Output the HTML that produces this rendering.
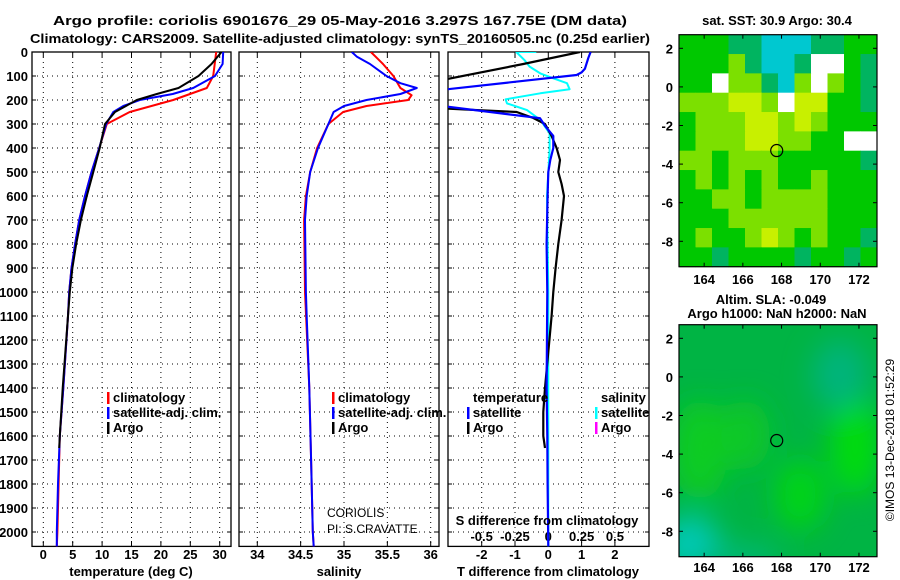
<!DOCTYPE html>
<html><head><meta charset="utf-8"><style>
body{margin:0;background:#fff;}
svg{display:block;font-family:"Liberation Sans",sans-serif;}
.b{font-weight:bold;font-size:13px;}
</style></head><body>
<svg id="s" width="900" height="580" viewBox="0 0 900 580">
<defs>
<clipPath id="c1"><rect x="32" y="52" width="199" height="495"/></clipPath>
<clipPath id="c2"><rect x="239" y="52" width="200" height="495"/></clipPath>
<clipPath id="c3"><rect x="448" y="52" width="201" height="495"/></clipPath>
<clipPath id="cm2"><rect x="679" y="325" width="198" height="232"/></clipPath>
<filter id="bl"><feGaussianBlur stdDeviation="14"/></filter>
</defs>
<text x="340" y="25" text-anchor="middle" class="b" font-size="15" textLength="574" lengthAdjust="spacingAndGlyphs">Argo profile: coriolis 6901676_29 05-May-2016 3.297S 167.75E (DM data)</text>
<text x="340" y="43" text-anchor="middle" class="b" font-size="15" textLength="620" lengthAdjust="spacingAndGlyphs">Climatology: CARS2009. Satellite-adjusted climatology: synTS_20160505.nc (0.25d earlier)</text>
<g id="g"></g>
</svg>
<script>
// depth grid
const depthTicks=[0,100,200,300,400,500,600,700,800,900,1000,1100,1200,1300,1400,1500,1600,1700,1800,1900,2000];
// temperature panel
const tempTicks=[0,5,10,15,20,25,30];
const climDepth=[0,100,150,200,250,300,400,500,600,700,800,900,1000,1100,1400,1600,1800,2000,2060];
const climTemp=[29.4,28.9,27.8,22.1,14.7,10.8,9.5,8.2,7.1,6.1,5.4,4.8,4.4,4.2,3.4,2.8,2.6,2.4,2.3];
const satDepth=[0,50,100,150,175,200,225,250,300,400,500,600,700,800,900,1000,1100,1400,1600,1800,2000,2060];
const satTemp=[30.6,30.5,29.2,25.5,22,16.4,13.6,11.9,10.7,9.5,8.2,7.1,6.1,5.4,4.8,4.4,4.2,3.4,2.8,2.5,2.3,2.3];
const argoDepth=[0,50,100,150,175,200,250,300,400,500,600,700,800,900,1000,1100,1400,1600,1650];
const argoTemp=[30.3,28.6,26.4,23,19.3,15.9,12.2,10.5,9.6,8.5,7.4,6.4,5.6,4.95,4.5,4.2,3.3,2.8,2.7];
// salinity panel
const salTicks=[34,34.5,35,35.5,36];
const salTickLabels=["34","34.5","35","35.5","36"];
const climSalDepth=[0,50,100,150,180,200,225,250,300,400,500,600,700,1000,1400,1700,2000,2060];
const climSal=[35.31,35.45,35.57,35.65,35.78,35.74,35.26,34.99,34.82,34.69,34.61,34.56,34.54,34.55,34.6,34.62,34.64,34.65];
const satSalDepth=[0,20,50,100,130,150,175,200,225,250,300,400,500,600,700,1000,1100,1400,1700,2000,2060];
const satSal=[35.09,35.15,35.3,35.49,35.65,35.84,35.65,35.26,35.0,34.88,34.82,34.7,34.61,34.57,34.55,34.56,34.57,34.6,34.62,34.64,34.65];
// difference panel
const tdTicks=[-2,-1,0,1,2];
const sdTicks=[-0.5,-0.25,0,0.25,0.5];
const sdTickLabels=["-0.5","-0.25","0","0.25","0.5"];
const argoTdDepth=[0,50,117,235,250,275,300,350,400,450,500,550,600,700,800,900,1000,1100,1400,1500,1600,1650];
const argoTd=[0.95,-0.75,-3.2,-3.2,-0.95,-0.45,-0.1,0.1,0.25,0.35,0.3,0.4,0.47,0.4,0.3,0.22,0.15,0.1,-0.1,-0.15,-0.15,-0.1];
const satTdDepth=[0,25,70,85,96,158,225,276,311,350,400,450,500,600,800,1000,1400,1600,1800,2060];
const satTd=[1.27,1.2,1.1,1.0,0.85,-3.2,-3.2,-0.25,-0.08,0.15,0.15,0.06,0,-0.02,-0.05,-0.03,-0.05,-0.03,-0.02,0];
const satSdDepth=[0,0,33,61,89,110,130,155,172,197,214,242,283,339,408,600,1000,1500,2060];
const satSd=[-0.09,-0.24,-0.18,-0.14,-0.06,0.04,0.14,0.16,-0.06,-0.32,-0.31,-0.16,-0.06,0.01,0.01,-0.01,0,0,0];
// maps
const lonTicks=[164,166,168,170,172];
const latTicks=[2,0,-2,-4,-6,-8];
const sstRows=["GGGTTCCCTTGG","GGGLTCCTWWGT","GGWLLTCLWLGT","LLLYYLWYYGGT","GLLLYYLYLGGG","GLLLYYLLGGWW","LLGLLLGGGGGT","GLGLGLGGLGGG","GGLLGLLLLGGG","GGGLLLLLLGGG","GLGGLYLGLGGT","GGTGGGGTGGTG"];
const argoLon=167.75, argoLat=-3.297;

const NS='http://www.w3.org/2000/svg';
const G=document.getElementById('g');
function mk(t,a,p){const e=document.createElementNS(NS,t);for(const k in a)e.setAttribute(k,a[k]);(p||G).appendChild(e);return e;}
const yD=d=>52+0.24*d;
const xT=v=>43.3+v*5.88;
const xS=v=>257.3+(v-34)*86.7;
const xTd=v=>548.3+v*33.3;
const xSd=v=>548.3+v*133.3;

function panel(x0,x1,name){
  const f=mk('rect',{x:x0,y:52,width:x1-x0,height:494.4,fill:'none',stroke:'#000','stroke-width':1.3});
  
  
  depthTicks.forEach(d=>{
    const l=mk('line',{x1:x0,x2:x1,y1:yD(d),y2:yD(d),stroke:'#000','stroke-width':1,'stroke-dasharray':'1 4'});
    
    
    mk('line',{x1:x0,x2:x0+4,y1:yD(d),y2:yD(d),stroke:'#000'});
    mk('line',{x1:x1-4,x2:x1,y1:yD(d),y2:yD(d),stroke:'#000'});
  });
}
function vgrid(xs,name){xs.forEach(x=>{
  const l=mk('line',{x1:x,x2:x,y1:52,y2:546,stroke:'#000','stroke-width':1,'stroke-dasharray':'1 4'});
  
  
  mk('line',{x1:x,x2:x,y1:541,y2:546,stroke:'#000'});
  mk('line',{x1:x,x2:x,y1:52,y2:57,stroke:'#000'});
});}
function series(ds,vs,sx,col,clip,name,w){
  const pts=ds.map((d,i)=>sx(vs[i]).toFixed(1)+','+yD(d).toFixed(1)).join(' ');
  const p=mk('polyline',{points:pts,fill:'none',stroke:col,'stroke-width':w||2,'clip-path':'url(#'+clip+')','stroke-linejoin':'round'});
  
  
}
function txt(x,y,s,o){const t=mk('text',Object.assign({x:x,y:y,'class':'b'},o||{}));t.textContent=s;return t;}

depthTicks.forEach(d=>{const t=txt(28,yD(d)+5,String(d),{'text-anchor':'end'});
  
  });

// panel 1
panel(32,231,'temperature-panel');
vgrid(tempTicks.map(xT),'temperature');
tempTicks.forEach(v=>{const t=txt(xT(v),559,String(v),{'text-anchor':'middle'});
  
  });
series(climDepth,climTemp,xT,'#f00','c1','temperature-climatology-line');
series(satDepth,satTemp,xT,'#00f','c1','temperature-satellite-line');
series(argoDepth,argoTemp,xT,'#000','c1','temperature-argo-line');
let t=txt(131,576,'temperature (deg C)',{'text-anchor':'middle'});



// panel 2
panel(239,439,'salinity-panel');
vgrid(salTicks.map(xS),'salinity');
salTicks.forEach((v,i)=>{const t=txt(xS(v),559,salTickLabels[i],{'text-anchor':'middle'});
  
  });
series(climSalDepth,climSal,xS,'#f00','c2','salinity-climatology-line');
series(satSalDepth,satSal,xS,'#00f','c2','salinity-satellite-line');
t=txt(339,576,'salinity',{'text-anchor':'middle'});


t=txt(327,517,'CORIOLIS',{'class':'','font-size':'12'});


t=txt(327,533,'PI: S.CRAVATTE',{'class':'','font-size':'12'});



// panel 3
panel(448,649,'difference-panel');
vgrid(tdTicks.map(xTd),'difference');
tdTicks.forEach(v=>{const t=txt(xTd(v),559,String(v),{'text-anchor':'middle'});
  
  });
sdTicks.forEach((v,i)=>{const t=txt(xSd(v),541,sdTickLabels[i],{'text-anchor':'middle'});
  
  });
series(satSdDepth,satSd,xSd,'#0ff','c3','salinity-difference-satellite-line');
series(argoTdDepth,argoTd,xTd,'#000','c3','temperature-difference-argo-line',2.2);
series(satTdDepth,satTd,xTd,'#00f','c3','temperature-difference-satellite-line',2.2);
t=txt(548,576,'T difference from climatology',{'text-anchor':'middle'});


t=txt(547,525,'S difference from climatology',{'text-anchor':'middle'});



function leg(x,y,col,label,name){
  const r=mk('rect',{x:x,y:y-10,width:2.5,height:12,fill:col});
  
  
  const tt=txt(x+6,y,label);
  
  
}
leg(107,402,'#f00','climatology','legend-climatology');
leg(107,417,'#00f','satellite-adj. clim.','legend-satellite');
leg(107,432,'#000','Argo','legend-argo');
leg(332,402,'#f00','climatology','legend2-climatology');
leg(332,417,'#00f','satellite-adj. clim.','legend2-satellite');
leg(332,432,'#000','Argo','legend2-argo');
t=txt(473,402,'temperature');


t=txt(601,402,'salinity');


leg(467,417,'#00f','satellite','legend-t-satellite');
leg(467,432,'#000','Argo','legend-t-argo');
leg(595,417,'#0ff','satellite','legend-s-satellite');
leg(595,432,'#f0f','Argo','legend-s-argo');

// maps
const mx0=679,mx1=877;
const xL=l=>679+(l-162.7)*19.35;
function yLat(top,l){return top+13.6+(2-l)*19.3;}
const colors={G:'#00c800',L:'#7ce000',Y:'#c8f000',T:'#00b460',C:'#00c8d0',W:'#ffffff'};
const cw=(mx1-mx0)/12, chh=(266.7-34.7)/12;
sstRows.forEach((row,r)=>{[...row].forEach((c,k)=>{
  const cell=mk('rect',{x:mx0+k*cw,y:34.7+r*chh,width:cw+0.5,height:chh+0.5,fill:colors[c]});
  
  
});});
function mapFrame(top,bot,name,lonY){
  const f=mk('rect',{x:mx0,y:top,width:mx1-mx0,height:bot-top,fill:'none',stroke:'#000','stroke-width':1.2});
  
  
  lonTicks.forEach(l=>{mk('line',{x1:xL(l),x2:xL(l),y1:top,y2:top+4,stroke:'#000'});mk('line',{x1:xL(l),x2:xL(l),y1:bot-4,y2:bot,stroke:'#000'});
    const tt=txt(xL(l),lonY,String(l),{'text-anchor':'middle'});
    
    });
  latTicks.forEach(l=>{const y=yLat(top,l);mk('line',{x1:mx0,x2:mx0+4,y1:y,y2:y,stroke:'#000'});mk('line',{x1:mx1-4,x2:mx1,y1:y,y2:y,stroke:'#000'});
    const tt=txt(673,y+5,String(l),{'text-anchor':'end'});
    
    });
  const c=mk('circle',{cx:xL(argoLon),cy:yLat(top,argoLat),r:6,fill:'none',stroke:'#000','stroke-width':1.2});
  
  
}
mapFrame(34.7,266.7,'sst-map',284);
const sg=mk('g',{'clip-path':'url(#cm2)'});


mk('rect',{x:679,y:325,width:198,height:232,fill:'#00b444'},sg);
const fg=mk('g',{filter:'url(#bl)'},sg);
mk('ellipse',{cx:700,cy:450,rx:28,ry:50,fill:'#10cc20'},fg);
mk('ellipse',{cx:745,cy:435,rx:25,ry:35,fill:'#10c828'},fg);
mk('ellipse',{cx:855,cy:445,rx:25,ry:50,fill:'#00dc10'},fg);
mk('ellipse',{cx:800,cy:495,rx:25,ry:35,fill:'#00d414'},fg);
mk('ellipse',{cx:840,cy:375,rx:28,ry:35,fill:'#00b47c'},fg);
mk('ellipse',{cx:690,cy:545,rx:30,ry:30,fill:'#00c8b4'},fg);
mk('ellipse',{cx:740,cy:560,rx:40,ry:15,fill:'#00b878'},fg);
mapFrame(324.7,556.7,'sla-map',572);

t=txt(777,25,'sat. SST: 30.9 Argo: 30.4',{'text-anchor':'middle'});


t=txt(771,304,'Altim. SLA: -0.049',{'text-anchor':'middle'});


t=txt(777,318,'Argo h1000: NaN h2000: NaN',{'text-anchor':'middle'});


t=txt(0,0,'©IMOS 13-Dec-2018 01:52:29',{'class':'','font-size':'12','text-anchor':'middle',transform:'translate(894,440) rotate(-90)'});


</script>
</body></html>
